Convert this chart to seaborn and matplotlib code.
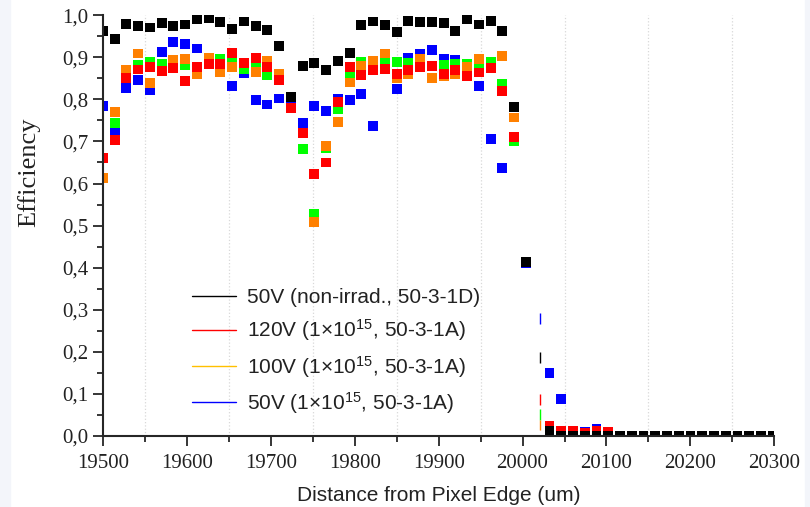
import numpy as np
import pandas as pd
import seaborn as sns
import matplotlib.pyplot as plt
from matplotlib.lines import Line2D
from matplotlib.ticker import MultipleLocator, FuncFormatter

nan = np.nan

# distance from pixel edge (um), one point every 14 um
distance = [19500, 19514, 19528, 19542, 19556, 19570, 19584, 19598, 19612, 19626,
            19640, 19654, 19668, 19682, 19696, 19710, 19724, 19738, 19752, 19766,
            19780, 19794, 19808, 19822, 19836, 19850, 19864, 19878, 19892, 19906,
            19920, 19934, 19948, 19962, 19976, 19990, 20004, 20018, 20032, 20046,
            20060, 20074, 20088, 20102, 20116, 20130, 20144, 20158, 20172, 20186,
            20200, 20214, 20228, 20242, 20256, 20270, 20284, 20298]

eff_50v_nonirrad = [0.962, 0.943, 0.980, 0.974, 0.971, 0.981, 0.974, 0.978, 0.990, 0.993,
                    0.983, 0.967, 0.985, 0.975, 0.964, 0.926, 0.805, 0.880, 0.887, 0.870,
                    0.891, 0.910, 0.977, 0.985, 0.977, 0.960, 0.986, 0.984, 0.983, 0.981,
                    0.962, 0.991, 0.978, 0.986, 0.962, 0.782, 0.413, nan, 0.012, 0.0,
                    0.0, 0.0, 0.0, 0.0, 0.0, 0.0, 0.0, 0.0, 0.0, 0.0,
                    0.0, 0.0, 0.0, 0.0, 0.0, 0.0, 0.0, 0.0]

eff_120v = [0.660, 0.703, 0.851, 0.871, 0.876, 0.867, 0.875, 0.843, 0.876, 0.884,
            0.884, 0.910, 0.887, 0.899, 0.877, 0.847, 0.779, 0.720, 0.622, 0.650,
            0.794, 0.876, 0.857, 0.869, 0.872, 0.861, 0.869, 0.876, 0.879, 0.860,
            0.869, 0.855, 0.864, 0.874, 0.820, 0.710, nan, nan, 0.025, 0.012,
            0.012, 0.008, 0.012, 0.010, 0.0, 0.0, 0.0, 0.0, 0.0, 0.0,
            0.0, 0.0, 0.0, 0.0, 0.0, 0.0, 0.0, 0.0]

eff_100v = [0.614, 0.770, 0.871, 0.909, 0.838, nan, 0.893, 0.895, 0.861, 0.899,
            0.865, 0.877, nan, 0.865, 0.891, 0.861, nan, nan, 0.508, 0.690,
            0.747, 0.840, 0.879, 0.891, 0.909, 0.850, 0.860, 0.895, 0.851, 0.855,
            0.860, 0.876, 0.895, nan, 0.903, 0.757, nan, nan, 0.0, 0.0,
            0.0, 0.0, 0.0, 0.0, 0.0, 0.0, 0.0, 0.0, 0.0, 0.0,
            0.0, 0.0, 0.0, 0.0, 0.0, 0.0, 0.0, 0.0]

eff_green = [nan, 0.743, nan, 0.883, 0.889, 0.884, nan, 0.881, nan, nan,
             0.897, 0.891, 0.873, 0.876, 0.857, nan, nan, 0.683, 0.527, 0.685,
             0.776, 0.856, 0.889, nan, 0.891, 0.889, 0.887, nan, 0.880, 0.881,
             0.884, 0.885, 0.877, 0.888, 0.836, 0.700, nan, nan, 0.0, 0.0,
             0.0, 0.0, 0.0, 0.0, 0.0, 0.0, 0.0, 0.0, 0.0, 0.0,
             0.0, 0.0, 0.0, 0.0, 0.0, 0.0, 0.0, 0.0]

eff_50v_irrad = [0.785, 0.725, 0.827, 0.847, 0.822, 0.913, 0.937, 0.931, 0.921, nan,
                 nan, 0.832, 0.863, 0.798, 0.788, 0.802, 0.800, 0.743, 0.785, 0.772,
                 0.800, 0.798, 0.812, 0.736, nan, 0.824, 0.899, 0.907, 0.918, 0.895,
                 0.893, nan, 0.832, 0.705, 0.637, nan, 0.410, nan, 0.150, 0.088,
                 0.008, 0.010, 0.018, 0.005, 0.0, 0.0, 0.0, 0.0, 0.0, 0.0,
                 0.0, 0.0, 0.0, 0.0, 0.0, 0.0, 0.0, 0.0]

# thin marks right at the edge (one per series)
dash_distance = 20021
dash_series = ["blue", "green", "orange", "red", "black"]
dash_values = [0.280, 0.052, 0.026, 0.087, 0.187]

legend_labels = ["50V (non-irrad., 50-3-1D)",
                 "120V (1×10$^{15}$, 50-3-1A)",
                 "100V (1×10$^{15}$, 50-3-1A)",
                 "50V (1×10$^{15}$, 50-3-1A)"]
legend_colors = ["#000000", "#FF0000", "#FFC000", "#0000FF"]

palette = {"blue": "#0000FF", "green": "#00FF00", "orange": "#FF8000",
           "red": "#FF0000", "black": "#000000"}

# drawing order: blue at the bottom, black on top
frames = []
for name, vals in [("blue", eff_50v_irrad), ("green", eff_green), ("orange", eff_100v),
                   ("red", eff_120v), ("black", eff_50v_nonirrad)]:
    frames.append(pd.DataFrame({"distance": distance, "eff": vals, "series": name}))
df = pd.concat(frames, ignore_index=True).dropna()

df_dash = pd.DataFrame({"distance": [dash_distance] * len(dash_values),
                        "eff": dash_values, "series": dash_series})

sns.set_style("ticks")
plt.rcParams["mathtext.default"] = "regular"

fig = plt.figure(figsize=(8.1, 5.07), dpi=100)
fig.patch.set_facecolor("white")
ax = fig.add_axes([0.127, 0.140, 0.829, 0.830])

sns.scatterplot(data=df, x="distance", y="eff", hue="series", palette=palette,
                marker="s", s=50, linewidth=0, legend=False, ax=ax)
sns.scatterplot(data=df_dash, x="distance", y="eff", hue="series", palette=palette,
                marker="|", s=60, linewidth=1, legend=False, ax=ax)

ax.set_xlim(19500, 20300)
ax.set_ylim(0, 1.0)
ax.xaxis.set_major_locator(MultipleLocator(100))
ax.xaxis.set_minor_locator(MultipleLocator(50))
ax.yaxis.set_major_locator(MultipleLocator(0.1))
ax.yaxis.set_minor_locator(MultipleLocator(0.05))
ax.yaxis.set_major_formatter(FuncFormatter(lambda v, p: f"{v:.1f}".replace(".", ",")))
ax.grid(False)
ax.grid(True, which="minor", axis="x", color="#d8d8d8", linestyle=":", linewidth=0.9)

for side in ["top", "right"]:
    ax.spines[side].set_visible(False)
for side in ["left", "bottom"]:
    ax.spines[side].set_linewidth(1.5)

ax.tick_params(which="major", direction="out", length=7, width=1.3)
ax.tick_params(which="minor", direction="out", length=4, width=1.3)
ax.tick_params(axis="x", which="major", pad=6)
for lab in ax.get_xticklabels() + ax.get_yticklabels():
    lab.set_fontfamily("Liberation Serif")
    lab.set_fontsize(15)
    lab.set_color("#222222")

ax.set_xlabel("Distance from Pixel Edge (um)", fontfamily="Liberation Sans",
              fontsize=15, color="#222222", labelpad=9)
ax.set_ylabel("Efficiency", fontfamily="Liberation Serif", fontsize=19,
              color="#222222")
ax.yaxis.set_label_coords(-0.093, 0.627)

handles = [Line2D([0], [0], color=c, linewidth=1) for c in legend_colors]
leg = fig.legend(handles, legend_labels, loc="upper left",
                 bbox_to_anchor=(192 / 810, 1 - 288 / 507), frameon=False,
                 prop={"family": "Liberation Sans", "size": 15},
                 handlelength=2.1, handletextpad=0.53, labelspacing=0.5,
                 borderpad=0, borderaxespad=0)
for t in leg.get_texts():
    t.set_color("#222222")

# light frame strips at the image edges
fig.patches.append(plt.Rectangle((0, 0), 10 / 810, 1, transform=fig.transFigure,
                                 color="#F3F5FA", zorder=-1))
fig.patches.append(plt.Rectangle((805 / 810, 0), 5 / 810, 1, transform=fig.transFigure,
                                 color="#F3F5FA", zorder=-1))

fig.savefig("out.png", dpi=100)
